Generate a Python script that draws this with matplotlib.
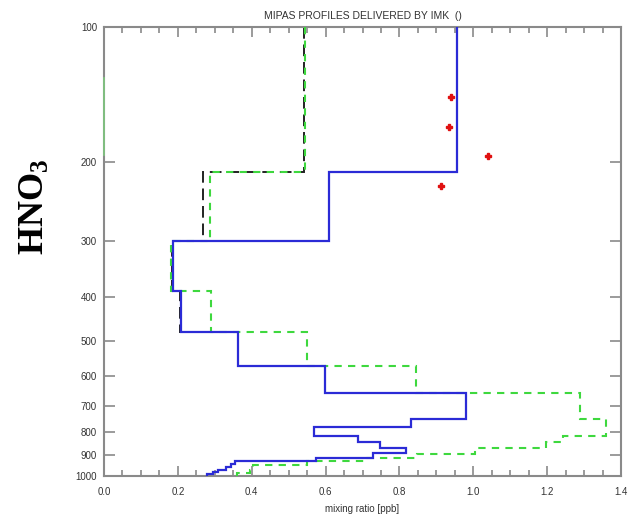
import matplotlib
matplotlib.use("Agg")
import matplotlib.pyplot as plt
from matplotlib.ticker import FixedLocator, MultipleLocator, NullLocator, FormatStrFormatter

# layer boundaries [hPa] and layer mixing ratios [ppb]
blue_edges = [100, 210, 299, 388, 479, 568, 654, 745, 779, 814, 841, 867,
              889, 910, 926, 940, 955, 968, 980, 990, 1000]
blue_vals = [0.956, 0.609, 0.186, 0.2085, 0.364, 0.598, 0.980, 0.8305, 0.569,
             0.689, 0.747, 0.817, 0.729, 0.573, 0.355, 0.345, 0.33, 0.31,
             0.295, 0.28]

black_edges = blue_edges
black_vals = [0.5425, 0.269, 0.183, 0.206] + blue_vals[4:]

green_edges = [100, 210, 299, 388, 479, 568, 654, 745, 814, 838, 867, 893,
               910, 926, 945, 970, 985, 1000]
green_vals = [0.544, 0.287, 0.181, 0.29, 0.549, 0.845, 1.289, 1.359, 1.244,
              1.196, 1.005, 0.847, 0.707, 0.55, 0.404, 0.395, 0.36]

# faint green trace along the left edge
edge_p = [130, 193]
edge_x = [0.0, 0.0]

# single measurements
pts_x = [0.941, 0.933, 1.040, 0.912]
pts_p = [143, 167, 194, 226]

yticks = [100, 200, 300, 400, 500, 600, 700, 800, 900, 1000]


def main():
    plt.rcParams['font.family'] = ['Liberation Sans', 'DejaVu Sans']
    plt.rcParams['mathtext.fontset'] = 'custom'
    plt.rcParams['mathtext.rm'] = 'Liberation Serif:bold'
    plt.rcParams['mathtext.bf'] = 'Liberation Serif:bold'
    plt.rcParams['mathtext.it'] = 'Liberation Serif:bold'

    fig = plt.figure(figsize=(6.33, 5.19), dpi=100)
    ax = fig.add_axes([104 / 633, 1 - 476 / 519, 517 / 633, 449 / 519])

    ax.stairs(black_vals, black_edges, orientation='horizontal', baseline=None,
              color='#222222', lw=1.4, linestyle=(0, (6, 3)), zorder=2)
    ax.stairs(green_vals, green_edges, orientation='horizontal', baseline=None,
              color='#3ed83e', lw=1.5, linestyle=(0, (3.5, 3)), zorder=3)
    ax.stairs(blue_vals, blue_edges, orientation='horizontal', baseline=None,
              color='#2b2bd6', lw=1.6, zorder=4)
    ax.plot(edge_x, edge_p, color='#7fc87f', lw=1.2, zorder=5, clip_on=False)
    ax.plot(pts_x, pts_p, linestyle='none', marker='P', ms=3.8,
            color='#e01010', mec='#e01010', zorder=6)

    ax.set_yscale('log')
    ax.set_ylim(1000, 100)
    ax.set_xlim(0, 1.4)
    ax.yaxis.set_major_locator(FixedLocator(yticks))
    ax.yaxis.set_minor_locator(NullLocator())
    ax.set_yticklabels([str(t) for t in yticks])
    ax.xaxis.set_major_locator(MultipleLocator(0.2))
    ax.xaxis.set_minor_locator(MultipleLocator(0.05))
    ax.xaxis.set_major_formatter(FormatStrFormatter('%.1f'))

    for side in ax.spines.values():
        side.set_color('#8a8a8a')
        side.set_linewidth(1.5)
    ax.tick_params(which='both', direction='in', top=True, right=True,
                   color='#8a8a8a', width=1.2, labelsize=7,
                   labelcolor='#333333')
    ax.tick_params(axis='x', which='major', length=7, pad=8)
    ax.tick_params(axis='x', which='minor', length=4)
    ax.tick_params(axis='y', which='major', length=8, pad=5)

    ax.set_title('MIPAS PROFILES DELIVERED BY IMK  ()', fontsize=7.5,
                 color='#333333', pad=6)
    ax.set_xlabel('mixing ratio [ppb]', fontsize=7, color='#333333',
                  labelpad=5)

    fig.text(35 / 633, 1 - 207 / 519, r'HNO$_{3}$', rotation=90,
             ha='center', va='center', fontsize=26, fontweight='bold',
             family='Liberation Serif')

    fig.savefig('out.png', dpi=100)


if __name__ == "__main__":
    main()
